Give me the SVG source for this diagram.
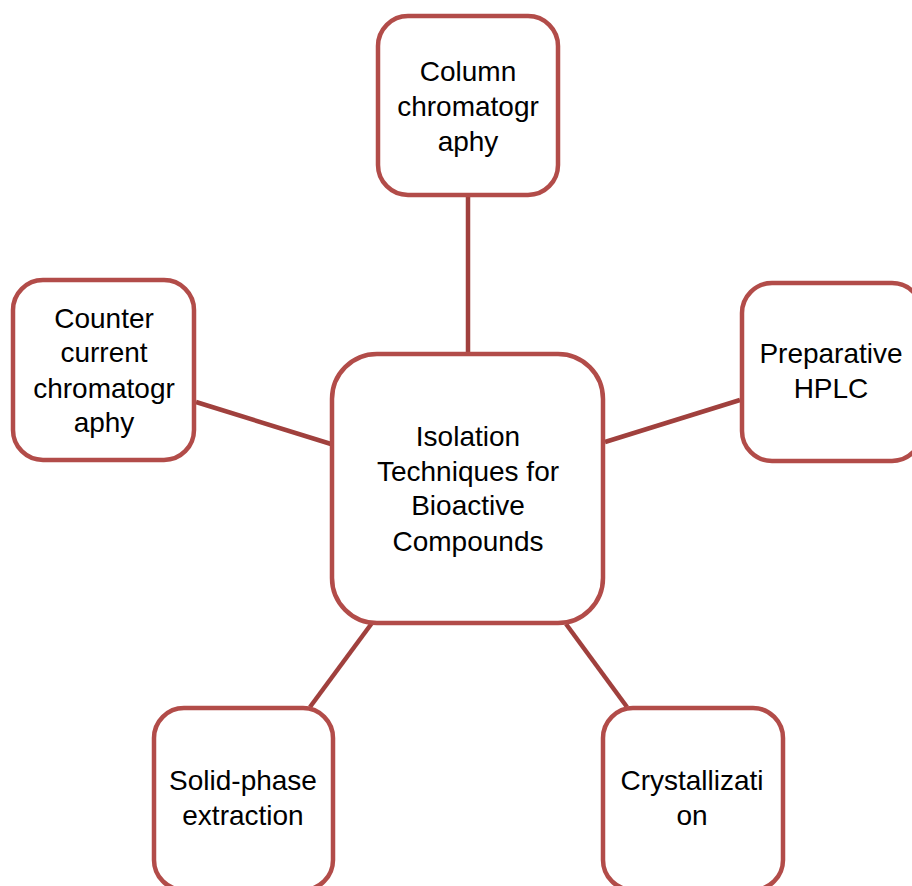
<svg xmlns="http://www.w3.org/2000/svg" width="912" height="886" viewBox="0 0 912 886">
<style>
.n{fill:#fff;stroke:#b24c49;stroke-width:4.5}
.c{stroke:#a0403d;stroke-width:4.5;fill:none}
text{font-family:"Liberation Sans",Arial,sans-serif;font-size:28px;fill:#000;text-anchor:middle}
</style>
<rect width="912" height="886" fill="#fff"/>
<g id="connectors">
<line class="c" x1="468" y1="197" x2="468" y2="353"/>
<line class="c" x1="196" y1="402" x2="331" y2="444"/>
<line class="c" x1="605" y1="442" x2="740" y2="400"/>
<line class="c" x1="372" y1="623" x2="310" y2="707"/>
<line class="c" x1="566" y1="624" x2="627" y2="707"/>
</g>
<g id="center">
<rect class="n" x="332" y="354" width="271" height="269" rx="45"/>
<text x="468" y="446">Isolation</text>
<text x="468" y="481">Techniques for</text>
<text x="468" y="515">Bioactive</text>
<text x="468" y="551">Compounds</text>
</g>
<g id="top">
<rect class="n" x="378" y="16" width="180" height="179" rx="30"/>
<text x="468" y="81">Column</text>
<text x="468" y="116">chromatogr</text>
<text x="468" y="151">aphy</text>
</g>
<g id="left">
<rect class="n" x="13" y="280" width="181" height="180" rx="30"/>
<text x="104" y="328">Counter</text>
<text x="104" y="362">current</text>
<text x="104" y="398">chromatogr</text>
<text x="104" y="432">aphy</text>
</g>
<g id="right">
<rect class="n" x="742" y="283" width="180" height="178" rx="30"/>
<text x="831" y="363">Preparative</text>
<text x="831" y="398">HPLC</text>
</g>
<g id="bottom-left">
<rect class="n" x="154" y="708" width="179" height="182" rx="30"/>
<text x="243" y="790">Solid-phase</text>
<text x="243" y="825">extraction</text>
</g>
<g id="bottom-right">
<rect class="n" x="603" y="708" width="180" height="182" rx="30"/>
<text x="692" y="790">Crystallizati</text>
<text x="692" y="825">on</text>
</g>
</svg>
